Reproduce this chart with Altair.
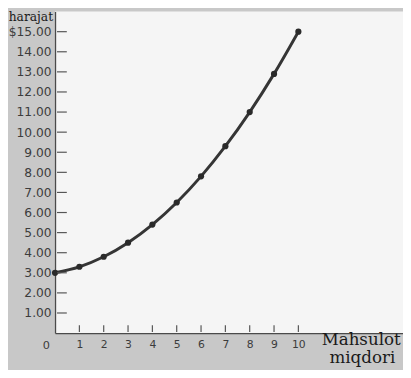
import altair as alt
import pandas as pd

# Data
quantity = [0, 1, 2, 3, 4, 5, 6, 7, 8, 9, 10]
cost = [3.00, 3.30, 3.80, 4.50, 5.40, 6.50, 7.80, 9.30, 11.00, 12.90, 15.00]
y_tick_values = [1, 2, 3, 4, 5, 6, 7, 8, 9, 10, 11, 12, 13, 14, 15]
x_tick_values = [1, 2, 3, 4, 5, 6, 7, 8, 9, 10]
x_title_lines = ["Mahsulot", "miqdori"]
y_title = "harajat"
origin_label = ["0"]

W, H = 355, 328
INK = "#353535"

df = pd.DataFrame({"q": quantity, "c": cost})
yt = pd.DataFrame({"c": y_tick_values})
xt = pd.DataFrame({"q": x_tick_values})

x_scale = alt.Scale(domain=[0, 14.3], nice=False, zero=False)
y_scale = alt.Scale(domain=[0, 16], nice=False)

x_axis = alt.Axis(values=x_tick_values, ticks=False, grid=False, title=None,
                  domainColor="#4a4a4a", domainWidth=1.3,
                  labelFont="DejaVu Sans", labelFontSize=11, labelColor="#3c3c3c",
                  labelPadding=6, format="d")
y_axis = alt.Axis(values=y_tick_values, ticks=False, grid=False, title=None,
                  domainColor="#4a4a4a", domainWidth=1.3,
                  labelFont="DejaVu Sans", labelFontSize=12.5, labelColor="#3c3c3c",
                  labelPadding=4,
                  labelExpr="datum.value == 15 ? '$15.00' : format(datum.value, '.2f')")

X = alt.X("q:Q", scale=x_scale, axis=x_axis)
Y = alt.Y("c:Q", scale=y_scale, axis=y_axis)

line = alt.Chart(df).mark_line(interpolate="monotone", color=INK, strokeWidth=3).encode(x=X, y=Y)
points = alt.Chart(df).mark_circle(size=40, color="#2a2a2a", opacity=1).encode(x=X, y=Y)

y_ticks = alt.Chart(yt).mark_rule(color="#555555", strokeWidth=1.2).encode(
    y=Y, x=alt.value(2), x2=alt.value(12))
x_ticks = alt.Chart(xt).mark_rule(color="#555555", strokeWidth=1.2).encode(
    x=X, y=alt.value(H - 8), y2=alt.value(H - 1))

zero = alt.Chart(pd.DataFrame({"t": origin_label})).mark_text(
    font="DejaVu Sans", fontSize=11.5, color="#3c3c3c", align="center", baseline="middle"
).encode(text="t:N", x=alt.value(-9), y=alt.value(341))

xt1 = alt.Chart(pd.DataFrame({"t": [x_title_lines[0]]})).mark_text(
    font="DejaVu Serif", fontSize=17, color="#1a1a1a", align="left", baseline="alphabetic"
).encode(text="t:N", x=alt.value(272), y=alt.value(340))
xt2 = alt.Chart(pd.DataFrame({"t": [x_title_lines[1]]})).mark_text(
    font="DejaVu Serif", fontSize=17, color="#1a1a1a", align="left", baseline="alphabetic"
).encode(text="t:N", x=alt.value(280), y=alt.value(359))

ytitle = alt.Chart(pd.DataFrame({"t": [y_title]})).mark_text(
    font="DejaVu Serif", fontSize=12.5, color="#1a1a1a", align="right", baseline="alphabetic"
).encode(text="t:N", x=alt.value(-2), y=alt.value(10))

chart = alt.layer(line, points, y_ticks, x_ticks, zero, xt1, xt2, ytitle).properties(
    width=W, height=H,
    padding={"left": 48, "top": 0, "right": 0, "bottom": 34},
    autosize="none",
    background="#c8c8c8",
).configure_view(fill="#f5f5f5", strokeWidth=0)

chart.save("out.html", embed_options={"renderer": "svg", "actions": False})
